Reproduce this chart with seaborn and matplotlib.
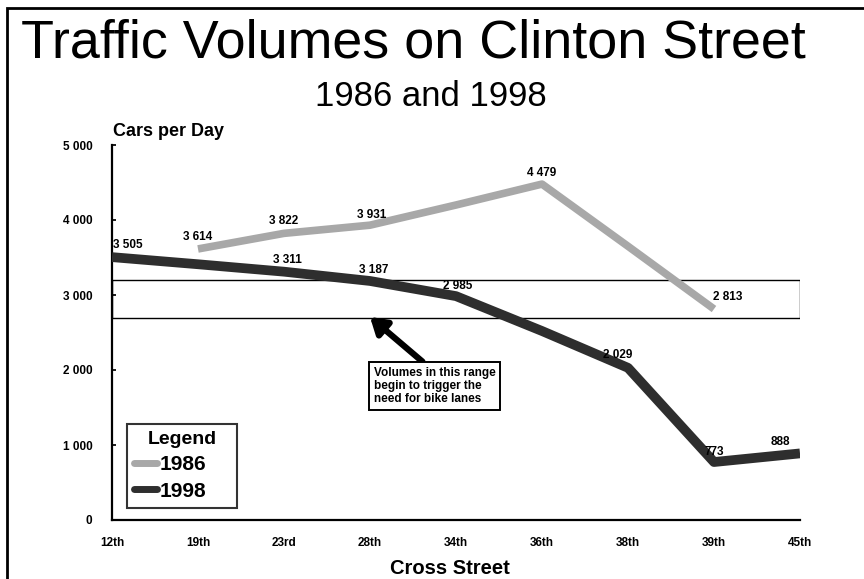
import matplotlib
matplotlib.use("Agg")
import matplotlib.pyplot as plt
import matplotlib.patches as mpatches
from matplotlib.lines import Line2D
import numpy as np
import pandas as pd
import seaborn as sns

streets = ["12th", "19th", "23rd", "28th", "34th", "36th", "38th", "39th", "45th"]
vol_1986 = [np.nan, 3614, 3822, 3931, 4200, 4479, 3650, 2813, np.nan]
vol_1998 = [3505, 3410, 3311, 3187, 2985, 2520, 2029, 773, 888]
# which points carry a value label, with label offsets in pixels
labels_1986 = {"19th": (0, 12), "23rd": (0, 12), "28th": (2, 10), "36th": (0, 11), "39th": (14, 12)}
labels_1998 = {"12th": (16, 12), "23rd": (3, 12), "28th": (4, 11), "34th": (2, 10),
               "38th": (-10, 13), "39th": (0, 10), "45th": (-20, 11)}
band_low, band_high = 2700, 3200
yticks = [0, 1000, 2000, 3000, 4000, 5000]

sns.set_theme(style="white")
plt.rcParams["font.family"] = ["Liberation Sans", "DejaVu Sans"]
plt.rcParams.update({"text.color": "black", "axes.labelcolor": "black",
                     "xtick.color": "black", "ytick.color": "black"})

df = pd.DataFrame({
    "street": streets * 2,
    "pos": list(range(len(streets))) * 2,
    "cars": vol_1986 + vol_1998,
    "year": ["1986"] * len(streets) + ["1998"] * len(streets),
})

fig = plt.figure(figsize=(8.64, 5.79), dpi=100)
ax = fig.add_axes([112 / 864, 1 - 520 / 579, 688 / 864, 375 / 579])

palette = {"1986": "#a8a8a8", "1998": "#2e2e2e"}
widths = {"1986": 5.5, "1998": 7}
for year in ["1986", "1998"]:
    sub = df[df["year"] == year].dropna()
    sns.lineplot(data=sub, x="pos", y="cars", ax=ax, color=palette[year],
                 linewidth=widths[year], legend=False, zorder=3, solid_capstyle="butt")

# threshold band
ax.add_patch(mpatches.Rectangle((0, band_low), len(streets) - 1, band_high - band_low,
                                fill=False, edgecolor="black", linewidth=1.0, zorder=2))


def fmt(v):
    return f"{int(v):,}".replace(",", " ")


for series, labs in [(vol_1986, labels_1986), (vol_1998, labels_1998)]:
    for name, (dx, dy) in labs.items():
        i = streets.index(name)
        ax.annotate(fmt(series[i]), (i, series[i]), xytext=(dx, dy), textcoords="offset pixels",
                    ha="center", va="center", fontsize=8.5, fontweight="bold", zorder=5)

ax.set_xlim(0, len(streets) - 1)
ax.set_ylim(0, 5000)
ax.set_xticks(range(len(streets)))
ax.set_xticklabels(streets, fontsize=8.5, fontweight="bold")
ax.set_yticks(yticks)
ax.set_yticklabels([fmt(v) for v in yticks], fontsize=8.5, fontweight="bold")
ax.tick_params(axis="x", pad=12, length=0)
ax.tick_params(axis="y", pad=14, length=3, direction="in", left=True)
for side in ["top", "right"]:
    ax.spines[side].set_visible(False)
for side in ["left", "bottom"]:
    ax.spines[side].set_color("black")
    ax.spines[side].set_linewidth(1.6)
ax.set_xlabel("")
ax.set_ylabel("")

# annotation with arrow
ax.annotate("Volumes in this range\nbegin to trigger the\nneed for bike lanes",
            xy=(370, 579 - 317), xycoords="figure pixels",
            xytext=(374, 579 - 367), textcoords="figure pixels",
            fontsize=8.5, fontweight="bold", ha="left", va="top", linespacing=1.1,
            bbox=dict(boxstyle="square,pad=0.4", facecolor="white", edgecolor="black", linewidth=1.4),
            arrowprops=dict(arrowstyle="-|>,head_width=0.7,head_length=1.1", color="black",
                            linewidth=4.5, shrinkA=0, shrinkB=0,
                            relpos=(0.45, 1.0)),
            zorder=6)

# legend
handles = [Line2D([], [], color=palette["1986"], linewidth=5),
           Line2D([], [], color=palette["1998"], linewidth=5)]
leg = ax.legend(handles, ["1986", "1998"], title="Legend", loc="lower left",
                bbox_to_anchor=(15 / 688, 12 / 375, 110 / 688, 85 / 375), mode="expand",
                borderaxespad=0, frameon=True, fancybox=False,
                handlelength=1.1, handletextpad=0.1, borderpad=0.35, labelspacing=0.35,
                prop={"size": 15, "weight": "bold"}, title_fontproperties={"size": 14, "weight": "bold"})
leg.get_frame().set_edgecolor("black")
leg.get_frame().set_linewidth(1.5)

# titles and axis captions
fig.text(413 / 864, 1 - 44 / 579, "Traffic Volumes on Clinton Street", ha="center", va="center",
         fontsize=38.8)
fig.text(431 / 864, 1 - 97 / 579, "1986 and 1998", ha="center", va="center", fontsize=25)
fig.text(113 / 864, 1 - 131 / 579, "Cars per Day", ha="left", va="center", fontsize=13,
         fontweight="bold")
fig.text(450 / 864, 1 - 569 / 579, "Cross Street", ha="center", va="center", fontsize=14.5,
         fontweight="bold")

# outer frame
fig.add_artist(mpatches.Rectangle((7 / 864, -0.05), 1.05, 1 - 8 / 579 + 0.05,
                                  transform=fig.transFigure, fill=False,
                                  edgecolor="black", linewidth=2))

fig.savefig("out.png", dpi=100)
